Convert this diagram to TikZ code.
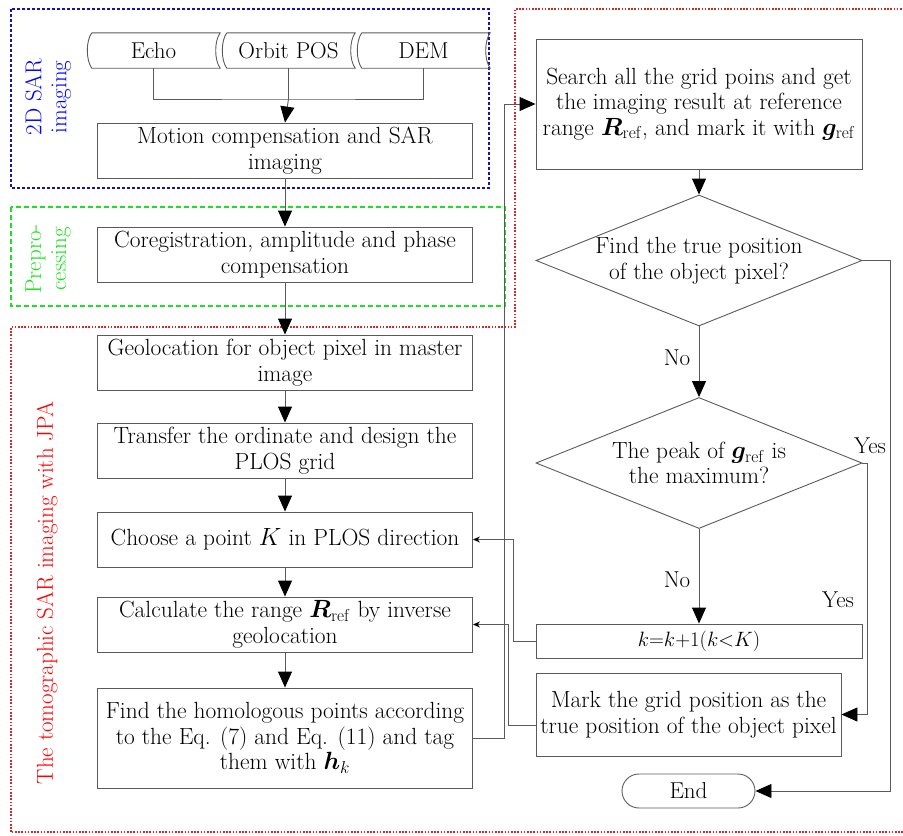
\documentclass[tikz,border=0pt]{standalone}
\usepackage{bm}
\usetikzlibrary{shapes.geometric,arrows.meta}

\providecommand{\boxfontsize}{\fontsize{23.4}{25.5}\selectfont}
\providecommand{\smallfontsize}{\fontsize{23}{25}\selectfont}
\providecommand{\mathfontsize}{\fontsize{20.5}{24}\selectfont}
\definecolor{framegray}{RGB}{90,90,90}
\definecolor{imgblue}{RGB}{20,20,170}
\definecolor{prepgreen}{RGB}{30,225,30}
\definecolor{tomored}{RGB}{210,40,40}

\tikzset{
    box/.style={draw=framegray,line width=0.9pt,rectangle,minimum width=375pt,minimum height=55pt,align=center,inner sep=1pt,font=\boxfontsize},
    rbox/.style={box,minimum width=326pt},
    decision/.style={draw=framegray,line width=0.9pt,diamond,aspect=2.49,minimum width=326pt,minimum height=131pt,inner sep=0pt},
    store/.style={rectangle,minimum width=133pt,minimum height=35pt,inner sep=0pt,font=\smallfontsize},
    terminal/.style={draw=framegray,line width=0.9pt,rectangle,rounded corners=17pt,minimum width=133pt,minimum height=34pt,font=\smallfontsize},
    conn/.style={draw=framegray,line width=0.9pt},
    arr/.style={conn,-{Triangle[length=16pt,width=14pt,color=black]}},
    thinarr/.style={conn,-{Stealth[length=7pt,width=6pt,color=black]}},
    lbl/.style={font=\smallfontsize,inner sep=1pt},
    grouplbl/.style={font=\fontsize{23}{25}\selectfont,rotate=90,align=center}
}

% outline of a stored-data input
\newcommand{\drawstore}[1]{
    \draw[conn] ([xshift=5pt]#1.north west) -- (#1.north east)
        .. controls +(-6pt,-8pt) and +(-6pt,8pt) .. (#1.south east)
        -- ([xshift=5pt]#1.south west)
        .. controls +(-6pt,8pt) and +(-6pt,-8pt) .. ([xshift=5pt]#1.north west);
}

\begin{document}
\begin{tikzpicture}[x=1pt,y=-1pt]
    \useasboundingbox (0,0) rectangle (903,836);
    \pgfmathsetmacro{\leftx}{285}
    \pgfmathsetmacro{\rightx}{699}

    % group frames
    \draw[imgblue,line width=2.6pt,dash pattern=on 3pt off 2pt] (11,9) rectangle (489,188);
    \draw[prepgreen,line width=2.6pt,dash pattern=on 5pt off 3pt] (11,207) rectangle (505,306);
    \draw[tomored,line width=2.2pt,dash pattern=on 1.6pt off 1.6pt] (11,832) -- (11,327) -- (515,327) -- (515,9) -- (906,9) -- (906,832) -- cycle;
    \node[grouplbl,text=blue] (lbl2d) at (48,97) {2D SAR\\imaging};
    \node[grouplbl,text=prepgreen] (lblprep) at (48,259) {Prepro-\\cessing};
    \node[grouplbl,text=red] (lbltomo) at (47,593) {The tomographic SAR imaging with JPA};

    % inputs
    \node[store] (echo) at (153.5,50.5) {Echo};
    \node[store] (orbit) at (288.5,50.5) {Orbit POS};
    \node[store] (dem) at (423.5,50.5) {DEM};
    \drawstore{echo}
    \drawstore{orbit}
    \drawstore{dem}
    \coordinate (merge) at (288.5,99);

    % left column
    \node[box] (motion) at (\leftx,150.5) {Motion compensation and SAR\\imaging};
    \node[box] (coreg) at (\leftx,254.5) {Coregistration, amplitude and phase\\compensation};
    \node[box] (geoloc) at (\leftx,362.5) {Geolocation for object pixel in master\\image};
    \node[box] (transfer) at (\leftx,450.5) {Transfer the ordinate and design the\\PLOS grid};
    \node[box] (choose) at (\leftx,539.5) {Choose a point $K$ in PLOS direction};
    \node[box] (calc) at (\leftx,624.5) {Calculate the range $\bm{R}_{\mathrm{ref}}$ by inverse\\geolocation};
    \node[box,minimum height=100pt] (find) at (\leftx,738) {Find the homologous points according\\to the Eq. (7) and Eq. (11) and tag\\them with $\bm{h}_k$};

    % right column
    \node[rbox,minimum height=130pt] (search) at (\rightx,104) {Search all the grid poins and get\\the imaging result at reference\\range $\bm{R}_{\mathrm{ref}}$, and mark it with $\bm{g}_{\mathrm{ref}}$};
    \node[decision,label={[font=\boxfontsize,align=center]center:Find the true position\\of the object pixel?}] (found) at (\rightx,260.5) {};
    \node[decision,label={[font=\boxfontsize,align=center]center:The peak of $\bm{g}_{\mathrm{ref}}$ is\\the maximum?}] (peak) at (\rightx,463) {};
    \node[rbox,minimum height=34pt,font=\mathfontsize] (kstep) at (\rightx,641) {$k{=}k{+}1(k{<}K)$};
    \node[box,minimum width=305pt,minimum height=83pt] (mark) at (688.5,714.5) {Mark the grid position as the\\true position of the object pixel};
    \node[terminal] (end) at (688.5,791) {End};

    \node[lbl] (no1) at (677,358) {No};
    \node[lbl] (no2) at (677,580) {No};
    \node[lbl] (yes1) at (870,446) {Yes};
    \node[lbl] (yes2) at (838,600) {Yes};

    % connectors
    \draw[conn] (echo.south) |- (merge) -| (dem.south);
    \draw[conn] (orbit.south) -- (merge);
    \draw[arr] (merge) -- (motion.north);
    \draw[arr] (motion.south) -- (coreg.north);
    \draw[arr] (coreg.south) -- (geoloc.north);
    \draw[arr] (geoloc.south) -- (transfer.north);
    \draw[arr] (transfer.south) -- (choose.north);
    \draw[arr] (choose.south) -- (calc.north);
    \draw[arr] (calc.south) -- (find.north);
    \draw[arr] (find.east) -- ++(31pt,0) |- (search.west);
    \draw[arr] (search.south) -- (found.north);
    \draw[arr] (found.south) -- (peak.north);
    \draw[arr] (peak.south) -- (kstep.north);
    \draw[arr] (found.east) -- ++(28pt,0) |- (end.east);
    \draw[arr] (peak.east) -- ++(5pt,0) |- (mark.east);
    \draw[thinarr] (kstep.west) -- ++(-22pt,0) |- (choose.east);
    \draw[thinarr] ([yshift=-11pt]mark.west) -- ++(-27pt,0) |- (calc.east);
\end{tikzpicture}
\end{document}
